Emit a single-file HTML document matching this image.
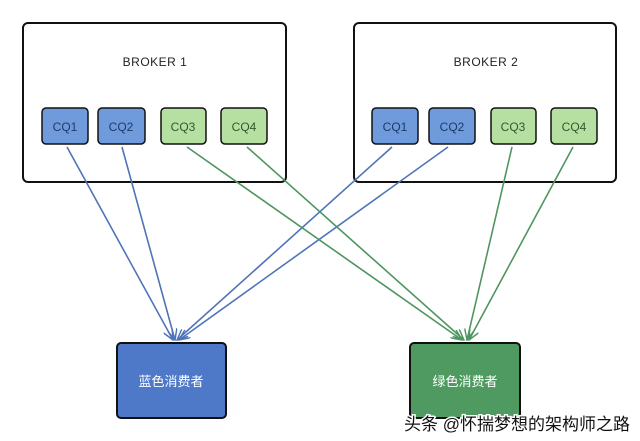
<!DOCTYPE html>
<html><head><style>
body{margin:0;background:#fff;width:640px;height:441px;overflow:hidden;font-family:"Liberation Sans","Noto Sans CJK SC",sans-serif;}
</style></head><body>
<svg width="640" height="441" xmlns="http://www.w3.org/2000/svg" style="position:absolute;left:0;top:0">
<defs>
<marker id="ab" markerWidth="12" markerHeight="10" refX="11" refY="5" orient="auto" markerUnits="userSpaceOnUse"><path d="M0,0 L11,5 L0,10" fill="none" stroke="#4f74b8" stroke-width="1.5"/></marker>
<marker id="ag" markerWidth="12" markerHeight="10" refX="11" refY="5" orient="auto" markerUnits="userSpaceOnUse"><path d="M0,0 L11,5 L0,10" fill="none" stroke="#4f9560" stroke-width="1.5"/></marker>
</defs>
<rect x="23" y="23" width="263" height="159" rx="5" fill="#fff" stroke="#111" stroke-width="2"/>
<rect x="354" y="23" width="262" height="159" rx="5" fill="#fff" stroke="#111" stroke-width="2"/>
<text x="155" y="66" font-size="12" letter-spacing="0.5" text-anchor="middle" fill="#222" font-family="Liberation Sans,sans-serif">BROKER 1</text>
<text x="486" y="66" font-size="12" letter-spacing="0.5" text-anchor="middle" fill="#222" font-family="Liberation Sans,sans-serif">BROKER 2</text>
<g font-size="12" text-anchor="middle" fill="#1f3a66" font-family="Liberation Sans,sans-serif">
<rect x="42" y="108" width="46" height="36" rx="4" fill="#6f9bdc" stroke="#111" stroke-width="1.5"/><text x="65" y="131">CQ1</text>
<rect x="98" y="108" width="47" height="36" rx="4" fill="#6f9bdc" stroke="#111" stroke-width="1.5"/><text x="121" y="131">CQ2</text>
<rect x="161" y="108" width="45" height="36" rx="4" fill="#b5e0a2" stroke="#111" stroke-width="1.5"/><text x="183" y="131" fill="#2c5a2c">CQ3</text>
<rect x="221" y="108" width="46" height="36" rx="4" fill="#b5e0a2" stroke="#111" stroke-width="1.5"/><text x="244" y="131" fill="#2c5a2c">CQ4</text>
<rect x="372" y="108" width="46" height="36" rx="4" fill="#6f9bdc" stroke="#111" stroke-width="1.5"/><text x="395" y="131">CQ1</text>
<rect x="429" y="108" width="46" height="36" rx="4" fill="#6f9bdc" stroke="#111" stroke-width="1.5"/><text x="452" y="131">CQ2</text>
<rect x="491" y="108" width="45" height="36" rx="4" fill="#b5e0a2" stroke="#111" stroke-width="1.5"/><text x="513" y="131" fill="#2c5a2c">CQ3</text>
<rect x="551" y="108" width="46" height="36" rx="4" fill="#b5e0a2" stroke="#111" stroke-width="1.5"/><text x="574" y="131" fill="#2c5a2c">CQ4</text>
</g>
<g stroke="#4f74b8" stroke-width="1.6" fill="none" marker-end="url(#ab)">
<line x1="67" y1="147" x2="173" y2="340"/>
<line x1="122" y1="147" x2="175" y2="340"/>
<line x1="392" y1="147" x2="177" y2="340"/>
<line x1="448" y1="147" x2="179" y2="340"/>
</g>
<g stroke="#4f9560" stroke-width="1.6" fill="none" marker-end="url(#ag)">
<line x1="187" y1="147" x2="462" y2="340"/>
<line x1="247" y1="147" x2="464" y2="340"/>
<line x1="512" y1="147" x2="467" y2="340"/>
<line x1="573" y1="147" x2="469" y2="340"/>
</g>
<rect x="117" y="343" width="109" height="75" rx="4" fill="#4e78c8" stroke="#111" stroke-width="2"/>
<rect x="410" y="343" width="110" height="75" rx="4" fill="#4f9a60" stroke="#111" stroke-width="2"/>
<text x="171" y="386" font-size="13" text-anchor="middle" fill="#fff" font-family="Liberation Sans,Noto Sans CJK SC,sans-serif">蓝色消费者</text>
<text x="465" y="386" font-size="13" text-anchor="middle" fill="#fff" font-family="Liberation Sans,Noto Sans CJK SC,sans-serif">绿色消费者</text>
<text x="404" y="430" font-size="17" fill="#111" stroke="#fff" stroke-width="3" paint-order="stroke" font-family="Liberation Sans,Noto Sans CJK SC,sans-serif">头条 @怀揣梦想的架构师之路</text>
</svg>
</body></html>
